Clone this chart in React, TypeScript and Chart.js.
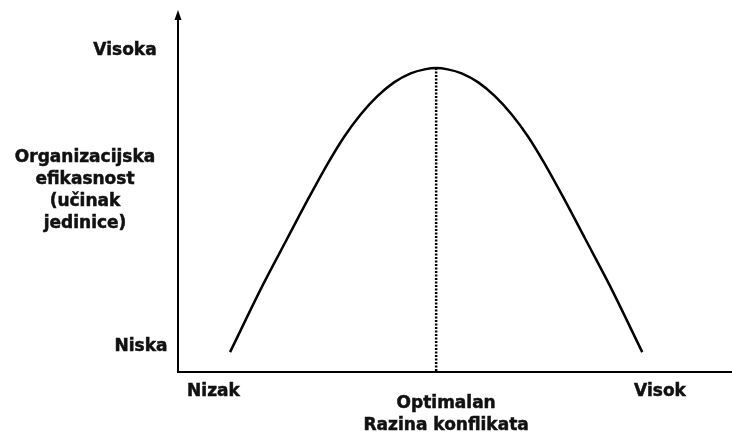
import React, { useEffect, useRef } from "react";
import { Chart, registerables } from "chart.js";

Chart.register(...registerables);

// Conflict level (x, 0..100) vs organisational efficiency (y, 0..100)
const curveX = [9.4, 15.3, 19.7, 23.5, 27.0, 30.0, 33.0, 36.0, 39.0, 42.0, 44.5, 46.6, 48.7, 51.2, 54.2, 57.2, 60.2, 63.2, 66.2, 69.7, 73.5, 77.9, 83.8];
const curveY = [5.5, 24.0, 36.8, 47.8, 57.5, 65.0, 71.2, 76.2, 80.0, 82.5, 83.6, 84.0, 83.6, 82.5, 80.0, 76.2, 71.2, 65.0, 57.5, 47.8, 36.8, 24.0, 5.5];
const optimumX = [46.6, 46.6];
const optimumY = [84.0, 0];

const xTickValues = [6.4, 48.4, 87.0];
const xTickLabels = ["Nizak", "Optimalan", "Visok"];
const yTickValues = [88.7, 6.9];
const yTickLabels = ["Visoka", "Niska"];
const yTitleLines = ["Organizacijska", "efikasnost", "(učinak", "jedinice)"];
const xTitle = "Razina konflikata";

const FONT = "bold 17px 'DejaVu Sans', Verdana, sans-serif";

const overlay = {
  id: "overlay",
  afterDraw(chart: any) {
    const ctx = chart.ctx;
    const xs = chart.scales.x;
    const ys = chart.scales.y;
    const x0 = xs.getPixelForValue(0);
    const y0 = ys.getPixelForValue(0);
    const yTop = ys.getPixelForValue(100);
    ctx.save();
    // axes
    ctx.strokeStyle = "#000";
    ctx.fillStyle = "#000";
    ctx.lineWidth = 2;
    ctx.beginPath();
    ctx.moveTo(x0, y0);
    ctx.lineTo(chart.width, y0);
    ctx.moveTo(x0, y0 + 1);
    ctx.lineTo(x0, yTop + 8);
    ctx.stroke();
    ctx.beginPath();
    ctx.moveTo(x0, yTop);
    ctx.lineTo(x0 - 3.5, yTop + 10);
    ctx.lineTo(x0 + 3.5, yTop + 10);
    ctx.closePath();
    ctx.fill();
    // text
    ctx.font = FONT;
    ctx.fillStyle = "#111";
    ctx.strokeStyle = "#111";
    ctx.lineWidth = 0.5;
    ctx.textAlign = "center";
    const put = (t: string, x: number, y: number) => {
      ctx.fillText(t, x, y);
      ctx.strokeText(t, x, y);
    };
    ctx.textBaseline = "alphabetic";
    const xBase = [24, 36, 24];
    xTickValues.forEach((v, i) => {
      put(xTickLabels[i], xs.getPixelForValue(v), y0 + xBase[i]);
    });
    put(xTitle, xs.getPixelForValue(xTickValues[1]), y0 + 58);
    const yOff = [-53, -37];
    ctx.textBaseline = "middle";
    yTickValues.forEach((v, i) => {
      put(yTickLabels[i], x0 + yOff[i], ys.getPixelForValue(v));
    });
    ctx.textBaseline = "alphabetic";
    yTitleLines.forEach((t, i) => {
      put(t, 85, 162 + i * 22);
    });
    ctx.restore();
  },
};

export default function App() {
  const ref = useRef<HTMLCanvasElement>(null);
  useEffect(() => {
    if (!ref.current) return;
    const chart = new Chart(ref.current, {
      type: "line",
      data: {
        datasets: [
          {
            data: curveX.map((x, i) => ({ x, y: curveY[i] })),
            borderColor: "#000",
            borderWidth: 2.5,
            pointRadius: 0,
            cubicInterpolationMode: "monotone",
            fill: false,
          },
          {
            data: optimumX.map((x, i) => ({ x, y: optimumY[i] })),
            borderColor: "#000",
            borderWidth: 2.5,
            borderDash: [2, 1.5],
            pointRadius: 0,
            fill: false,
          },
        ],
      },
      options: {
        responsive: false,
        animation: false,
        layout: { padding: { left: 178, right: 0, top: 10, bottom: 65 } },
        plugins: { legend: { display: false }, tooltip: { enabled: false } },
        scales: {
          x: { type: "linear", min: 0, max: 100, display: false },
          y: { type: "linear", min: 0, max: 100, display: false },
        },
      },
      plugins: [overlay],
    });
    return () => chart.destroy();
  }, []);
  return (
    <div style={{ position: "absolute", left: 0, top: 0, width: 732, height: 437, background: "#fff" }}>
      <canvas ref={ref} width={732} height={437} style={{ display: "block" }} />
    </div>
  );
}
